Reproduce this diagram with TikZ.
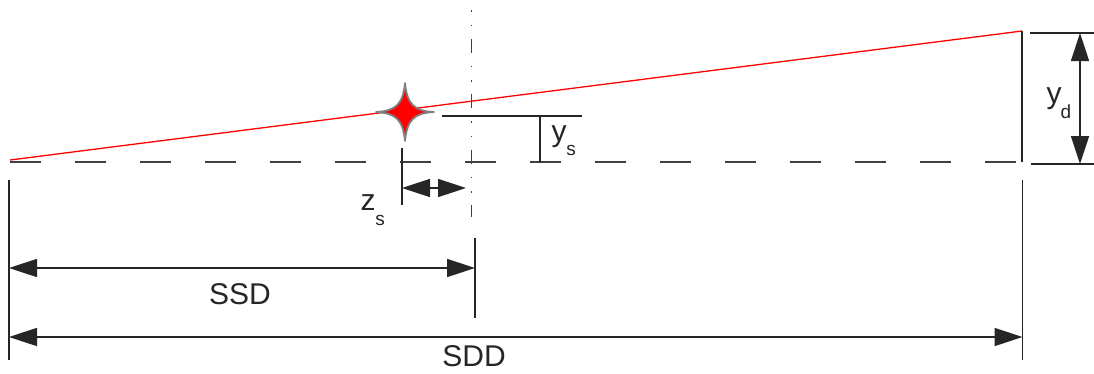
\documentclass[tikz,border=0pt]{standalone}
\usepackage{fontspec}
\setmainfont{Liberation Sans}
\usetikzlibrary{arrows.meta}
\tikzset{
  dim/.style={line width=1.6pt, black!85},
  dimarrow/.style={line width=1.6pt, black!85, {Triangle[length=28pt,width=18pt]}-{Triangle[length=28pt,width=18pt]}},
  dashline/.style={line width=1.6pt, black!75, dash pattern=on 31pt off 34pt},
  axisline/.style={line width=1.5pt, black!75, dash pattern=on 14pt off 13pt on 1.5pt off 13pt on 1.5pt off 12.5pt, dash phase=17pt},
  beam/.style={line width=1.3pt, red},
  lbl/.style={inner sep=0pt, font=\fontsize{30}{30}\selectfont, text=black!85},
  sub/.style={inner sep=0pt, font=\fontsize{19}{19}\selectfont, anchor=base, text=black!85},
  var/.style={inner sep=0pt, font=\fontsize{30}{30}\selectfont, anchor=base, text=black!85},
}
\begin{document}
\begin{tikzpicture}[x=1pt,y=-1pt]
\useasboundingbox[fill=white] (0,0) rectangle (1094,373);
% key points
\coordinate (src) at (10,160);
\coordinate (det) at (1022,31);
\coordinate (dl) at (10,162);
\coordinate (dr) at (1022,162);
% dashed optical axis
\draw[dashline] (dl) -- (dr);
% vertical dash-dot rotation axis
\coordinate (ax1) at (471.5,0);
\coordinate (ax2) at (471.5,217);
\draw[axisline] (ax1) -- (ax2);
% beam
\draw[beam] (src) -- (det);
% detector vertical
\coordinate (dtb) at (1022,162);
\draw[dim] (det) -- (dtb);
% extension lines
\coordinate (l1) at (9,180);
\coordinate (l2) at (9,360);
\draw[dim] (l1) -- (l2);
\coordinate (r1) at (1022.5,180);
\coordinate (r2) at (1022.5,360);
\draw[dim] (r1) -- (r2);
\coordinate (m1) at (475,238);
\coordinate (m2) at (475,318);
\draw[dim] (m1) -- (m2);
% SSD
\coordinate (ssdL) at (9,268);
\coordinate (ssdR) at (475,268);
\draw[dimarrow] (ssdL) -- (ssdR);
\node[lbl] (ssd) at (240,294) {SSD};
% SDD
\coordinate (sddL) at (9,337);
\coordinate (sddR) at (1022.5,337);
\draw[dimarrow] (sddL) -- (sddR);
\node[lbl] (sdd) at (474,356) {SDD};
% y_d
\coordinate (ydt1) at (1030,33);
\coordinate (ydt2) at (1094,33);
\coordinate (ydb1) at (1031,164);
\coordinate (ydb2) at (1094,164);
\draw[dim] (ydt1) -- (ydt2);
\draw[dim] (ydb1) -- (ydb2);
\coordinate (yda) at (1080,33);
\coordinate (ydb) at (1080,164);
\draw[dimarrow] (yda) -- (ydb);
\node[var] (ydy) at (1054,103) {y};
\node[sub] (ydd) at (1066,118) {d};
% y_s
\coordinate (ys1) at (442,116);
\coordinate (ys2) at (582,116);
\draw[dim] (ys1) -- (ys2);
\coordinate (ysa) at (540,116);
\coordinate (ysb) at (540,162);
\draw[dim] (ysa) -- (ysb);
\node[var] (ysy) at (559,141) {y};
\node[sub] (yss) at (571,155) {s};
% z_s
\coordinate (zs1) at (402,148);
\coordinate (zs2) at (402,205);
\draw[dim] (zs1) -- (zs2);
\coordinate (zsa) at (402,188);
\coordinate (zsb) at (466,188);
\draw[dimarrow] (zsa) -- (zsb);
\node[var] (zsz) at (368,210) {z};
\node[sub] (zss) at (380,225) {s};
% source star
\filldraw[fill=red, draw=black!50, line width=1.8pt, line join=round]
  (376,112) .. controls (396,111) and (403,104) .. (405,83)
  .. controls (407,104) and (414,111) .. (434,112)
  .. controls (414,113) and (407,120) .. (405,141)
  .. controls (403,120) and (396,113) .. cycle;
\end{tikzpicture}
\end{document}
